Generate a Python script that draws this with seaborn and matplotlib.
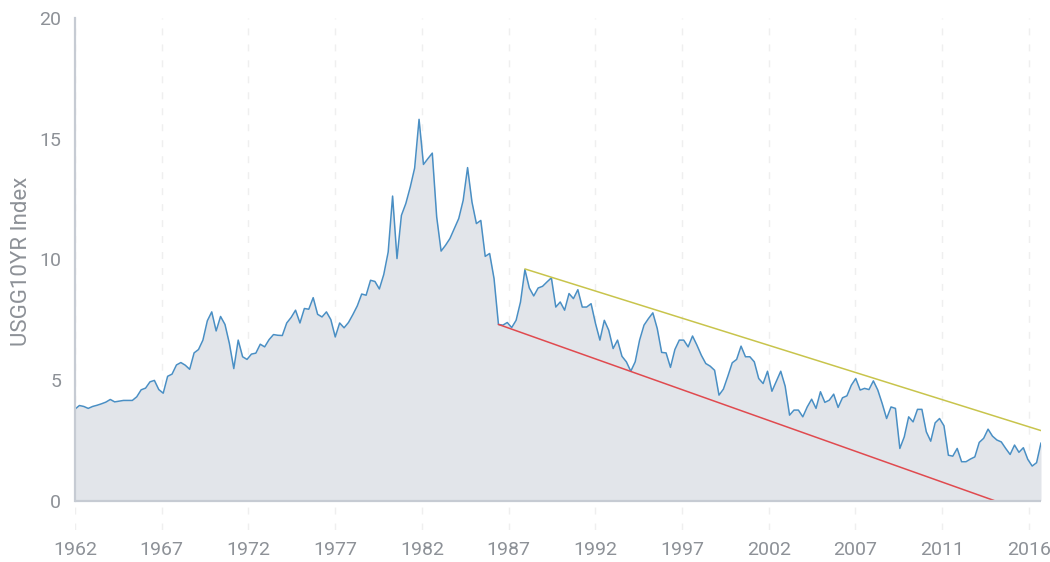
import numpy as np
import pandas as pd
import seaborn as sns
import matplotlib.pyplot as plt

# quarterly-ish readings of the 10y yield, 1962 -> 2016
yields = [
    3.79, 3.94, 3.90, 3.82, 3.90, 3.95, 4.01, 4.08, 4.19, 4.09,
    4.12, 4.15, 4.15, 4.15, 4.30, 4.59, 4.66, 4.92, 4.98, 4.60,
    4.45, 5.15, 5.24, 5.62, 5.72, 5.61, 5.44, 6.12, 6.26, 6.65,
    7.45, 7.82, 7.03, 7.63, 7.30, 6.51, 5.47, 6.65, 5.96, 5.85,
    6.07, 6.11, 6.48, 6.37, 6.67, 6.88, 6.85, 6.84, 7.36, 7.59,
    7.89, 7.36, 7.96, 7.93, 8.41, 7.72, 7.61, 7.82, 7.50, 6.78,
    7.36, 7.16, 7.38, 7.71, 8.07, 8.56, 8.51, 9.13, 9.08, 8.77,
    9.37, 10.30, 12.62, 10.03, 11.82, 12.31, 12.99, 13.78, 15.80, 13.93,
    14.17, 14.40, 11.75, 10.34, 10.58, 10.86, 11.27, 11.69, 12.44, 13.80,
    12.37, 11.48, 11.61, 10.12, 10.24, 9.20, 7.30, 7.27, 7.38, 7.17,
    7.47, 8.23, 9.57, 8.81, 8.48, 8.81, 8.88, 9.06, 9.23, 8.02,
    8.23, 7.89, 8.58, 8.37, 8.74, 8.02, 8.02, 8.16, 7.34, 6.65,
    7.47, 7.06, 6.30, 6.65, 5.98, 5.75, 5.36, 5.75, 6.65, 7.27,
    7.54, 7.78, 7.13, 6.14, 6.12, 5.52, 6.26, 6.65, 6.65, 6.37,
    6.82, 6.44, 6.02, 5.68, 5.57, 5.40, 4.37, 4.62, 5.15, 5.71,
    5.85, 6.40, 5.96, 5.96, 5.75, 5.06, 4.85, 5.36, 4.53, 4.95,
    5.36, 4.74, 3.54, 3.75, 3.75, 3.47, 3.88, 4.20, 3.82, 4.51,
    4.07, 4.16, 4.41, 3.86, 4.26, 4.34, 4.78, 5.06, 4.58, 4.65,
    4.60, 4.96, 4.58, 4.02, 3.40, 3.88, 3.82, 2.16, 2.64, 3.47,
    3.26, 3.78, 3.78, 2.85, 2.46, 3.22, 3.40, 3.10, 1.88, 1.84,
    2.16, 1.61, 1.61, 1.72, 1.81, 2.41, 2.58, 2.96, 2.67, 2.51,
    2.43, 2.16, 1.91, 2.30, 2.00, 2.19, 1.71, 1.43, 1.57, 2.39,
]

tick_labels = ['1962', '1967', '1972', '1977', '1982', '1987',
               '1992', '1997', '2002', '2007', '2011', '2016']

# trend channel (point index, value)
upper_x = [102, 219]
upper_y = [9.6, 2.9]
lower_x = [96, 208.4]
lower_y = [7.3, 0.0]

df = pd.DataFrame({'t': np.arange(len(yields)), 'v': yields})

sns.set_style('white')
plt.rcParams['font.family'] = ['Roboto', 'DejaVu Sans']

grey = '#8d9197'
fig = plt.figure(figsize=(10.5, 5.62), dpi=100)
ax = fig.add_axes([75 / 1050, 1 - 530 / 562, 966 / 1050, 512 / 562])

ax.fill_between(df['t'], 0, df['v'], color='#e2e5ea', lw=0)
sns.lineplot(data=df, x='t', y='v', ax=ax, color='#4a8fc4', lw=1.1)
ax.axhline(0, color='#c6cbd3', lw=1.6, zorder=3)

ax.plot(upper_x, upper_y, color='#c8c44c', lw=1.1)
ax.plot(lower_x, lower_y, color='#e04a4f', lw=1.1)

ticks = np.arange(len(tick_labels)) * 19.66
for t in ticks:
    ax.axvline(t, color='#efefef', lw=1, dashes=(5, 6.5), zorder=0)

ax.set_xlim(0, len(yields) - 1)
ax.set_ylim(-1.22, 20)
ax.set_xticks(ticks)
ax.set_xticklabels(tick_labels)
ax.set_yticks([0, 5, 10, 15, 20])
ax.tick_params(axis='both', length=0, labelsize=14, labelcolor=grey)
ax.tick_params(axis='x', pad=8)
ax.tick_params(axis='y', pad=10)

ax.set_xlabel('')
ax.set_ylabel('USGG10YR Index', fontsize=16, color=grey)
ax.yaxis.set_label_coords(-0.045, 0.525)

for s in ['top', 'right', 'bottom']:
    ax.spines[s].set_visible(False)
ax.spines['left'].set_color('#c6cbd3')
ax.spines['left'].set_linewidth(1.6)
ax.spines['left'].set_bounds(0, 20)

fig.savefig('out.png', dpi=100)
